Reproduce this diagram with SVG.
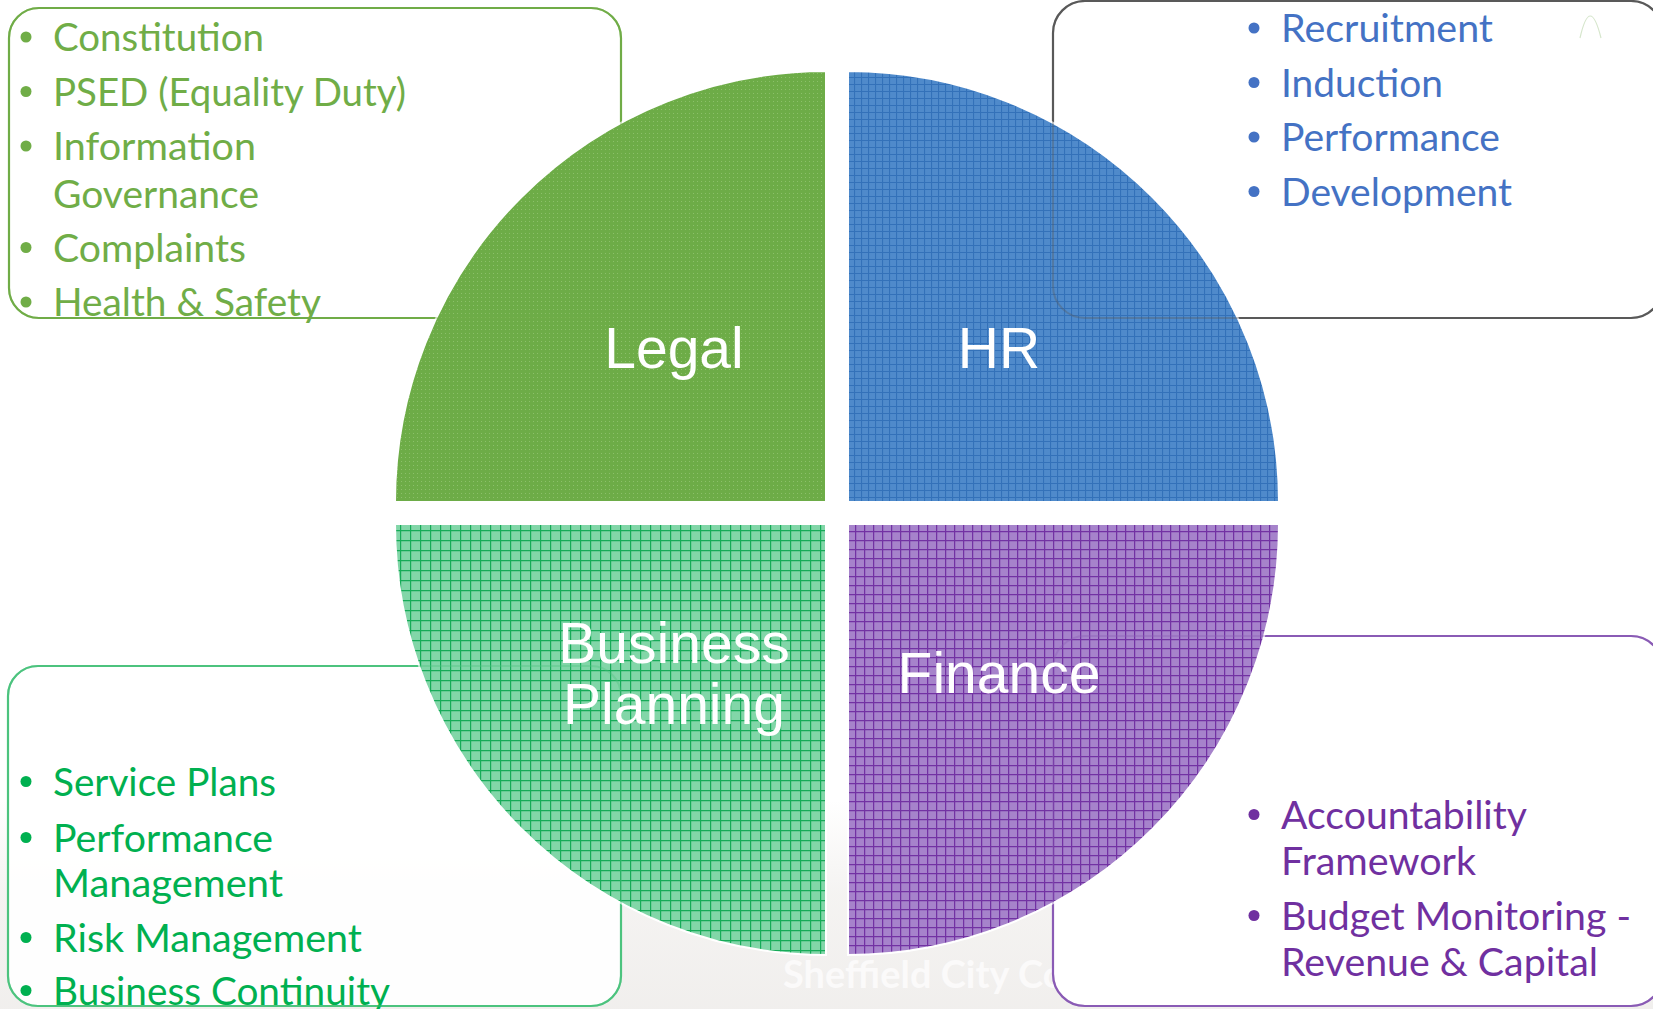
<svg xmlns="http://www.w3.org/2000/svg" width="1653" height="1009" viewBox="0 0 1653 1009">
<style>
.bt{font-family:Lato,"Open Sans","Liberation Sans",sans-serif;font-size:38px;}
.lb{font-family:"Liberation Sans",Arial,sans-serif;font-size:57px;fill:#fff;text-anchor:middle;}
.box{fill:#fff;stroke-width:2.2;}
.ghost{fill:none;stroke-width:2;stroke-opacity:0.35;}
.g1{fill:#70AD47;} .s1{stroke:#70AD47;}
.g2{fill:#4472C4;} .s2{stroke:#5a5a5a;}
.g3{fill:#00B050;} .s3{stroke:#4cc47f;}
.g4{fill:#7030A0;} .s4{stroke:#8a5bb5;}
</style>
<defs>
<pattern id="pLegal" width="4" height="4" patternUnits="userSpaceOnUse"><rect width="4" height="4" fill="#6dac47"/><rect x="1" y="1" width="1" height="1" fill="#8cc06a"/></pattern>
<pattern id="pHR" width="7" height="7" patternUnits="userSpaceOnUse"><rect width="7" height="7" fill="#4f8acb"/><path d="M0 0.5H7M0.5 0V7" stroke="#3371b9" stroke-width="1.2"/></pattern>
<pattern id="pBP" width="10" height="10" patternUnits="userSpaceOnUse"><rect width="10" height="10" fill="#82d6a8"/><path d="M0 0.6H10M0.6 0V10" stroke="#16ab58" stroke-width="1.2"/></pattern>
<pattern id="pFin" width="9" height="9" patternUnits="userSpaceOnUse"><rect width="9" height="9" fill="#a683cb"/><path d="M0 0.6H9M0.6 0V9" stroke="#7232a3" stroke-width="1.3"/></pattern>
<linearGradient id="bgFade" x1="0" y1="0" x2="0" y2="1">
<stop offset="0" stop-color="#f0eeec" stop-opacity="0"/>
<stop offset="0.45" stop-color="#f0eeec" stop-opacity="0.7"/>
<stop offset="1" stop-color="#efedeb" stop-opacity="0.9"/>
</linearGradient>
</defs>

<g id="background">
<rect x="0" y="0" width="1653" height="1009" fill="#fff"/>
<rect x="0" y="800" width="1653" height="209" fill="url(#bgFade)"/>
<text x="783" y="988" font-family="Lato,'Open Sans',sans-serif" font-size="38" font-weight="bold" fill="#fbfafa">Sheffield City Council</text>
</g>

<g id="box-legal">
<rect class="box s1" x="9" y="8" width="612" height="310" rx="30"/>
<g class="bt g1">
<circle cx="26" cy="37" r="5.5"/><text x="53" y="51" textLength="211" lengthAdjust="spacingAndGlyphs">Constitution</text>
<circle cx="26" cy="91.5" r="5.5"/><text x="53" y="105.5" textLength="353" lengthAdjust="spacingAndGlyphs">PSED (Equality Duty)</text>
<circle cx="26" cy="146" r="5.5"/><text x="53" y="160" textLength="203" lengthAdjust="spacingAndGlyphs">Information</text>
<text x="53" y="207.5" textLength="206" lengthAdjust="spacingAndGlyphs">Governance</text>
<circle cx="26" cy="247.5" r="5.5"/><text x="53" y="261.5" textLength="193" lengthAdjust="spacingAndGlyphs">Complaints</text>
<circle cx="26" cy="302" r="5.5"/><text x="53" y="316" textLength="268" lengthAdjust="spacingAndGlyphs">Health &amp; Safety</text>
</g>
</g>

<g id="box-hr">
<rect class="box s2" x="1053" y="1" width="610" height="317" rx="32"/>
<path d="M1580 38 Q1590 -6 1601 38" fill="none" stroke="#d6e6cc" stroke-width="1.2"/>
<g class="bt g2">
<circle cx="1254" cy="28" r="5.5"/><text x="1281" y="42" textLength="212" lengthAdjust="spacingAndGlyphs">Recruitment</text>
<circle cx="1254" cy="82.5" r="5.5"/><text x="1281" y="96.5" textLength="162" lengthAdjust="spacingAndGlyphs">Induction</text>
<circle cx="1254" cy="137" r="5.5"/><text x="1281" y="151" textLength="219" lengthAdjust="spacingAndGlyphs">Performance</text>
<circle cx="1254" cy="191.5" r="5.5"/><text x="1281" y="205.5" textLength="231" lengthAdjust="spacingAndGlyphs">Development</text>
</g>
</g>

<g id="box-bp">
<rect class="box s3" x="8" y="666" width="613" height="340" rx="30" fill-opacity="0.9"/>
<g class="bt g3">
<circle cx="26" cy="781.5" r="5.5"/><text x="53" y="795.5" textLength="223" lengthAdjust="spacingAndGlyphs">Service Plans</text>
<circle cx="26" cy="837.5" r="5.5"/><text x="53" y="851.5" textLength="220" lengthAdjust="spacingAndGlyphs">Performance</text>
<text x="53" y="897" textLength="230" lengthAdjust="spacingAndGlyphs">Management</text>
<circle cx="26" cy="937.5" r="5.5"/><text x="53" y="951.5" textLength="309" lengthAdjust="spacingAndGlyphs">Risk Management</text>
<circle cx="26" cy="990.5" r="5.5"/><text x="53" y="1004.5" textLength="337" lengthAdjust="spacingAndGlyphs">Business Continuity</text>
</g>
</g>

<g id="box-finance">
<rect class="box s4" x="1053" y="636" width="610" height="370" rx="32"/>
<g class="bt g4">
<circle cx="1254" cy="814.5" r="5.5"/><text x="1281" y="828.5" textLength="246" lengthAdjust="spacingAndGlyphs">Accountability</text>
<text x="1281" y="874.5" textLength="195" lengthAdjust="spacingAndGlyphs">Framework</text>
<circle cx="1254" cy="915.5" r="5.5"/><text x="1281" y="929.5" textLength="350" lengthAdjust="spacingAndGlyphs">Budget Monitoring -</text>
<text x="1281" y="976" textLength="317" lengthAdjust="spacingAndGlyphs">Revenue &amp; Capital</text>
</g>
</g>

<g id="node-legal">
<path d="M826 502 L395 502 A431 431 0 0 1 826 71 Z" fill="url(#pLegal)" stroke="#fff" stroke-width="2"/>
</g>
<g id="node-hr">
<path d="M848 502 L848 71 A431 431 0 0 1 1279 502 Z" fill="url(#pHR)" stroke="#fff" stroke-width="2"/>
</g>
<g id="node-bp">
<path d="M826 524 L826 955 A431 431 0 0 1 395 524 Z" fill="url(#pBP)" stroke="#fff" stroke-width="2"/>
</g>
<g id="node-finance">
<path d="M848 524 L1279 524 A431 431 0 0 1 848 955 Z" fill="url(#pFin)" stroke="#fff" stroke-width="2"/>
</g>

<g id="box-outlines-through">
<rect class="ghost s1" x="9" y="8" width="612" height="310" rx="30"/>
<rect class="ghost s2" x="1053" y="1" width="610" height="317" rx="32" stroke="#2f5f9a"/>
<rect class="ghost s3" x="8" y="666" width="613" height="340" rx="30"/>
<rect class="ghost s4" x="1053" y="636" width="610" height="370" rx="32"/>
</g>

<g id="labels">
<text class="lb" x="674" y="368">Legal</text>
<text class="lb" x="999" y="368">HR</text>
<text class="lb" x="674" y="663">Business</text>
<text class="lb" x="674" y="724">Planning</text>
<text class="lb" x="999" y="693">Finance</text>
</g>

<g id="connectors"/>
</svg>
